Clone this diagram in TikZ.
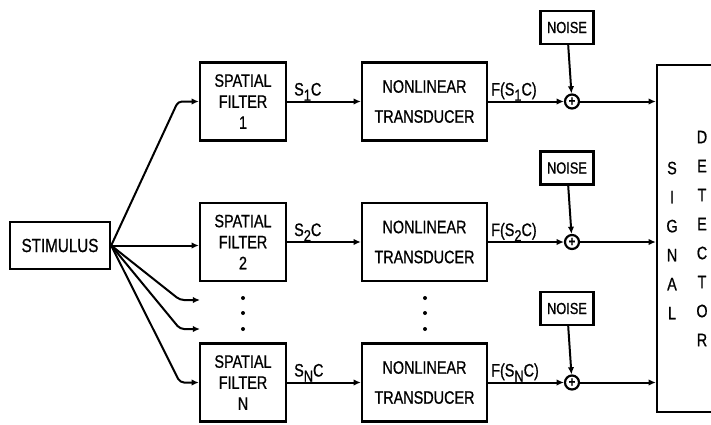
\documentclass[tikz,border=0pt]{standalone}
\usepackage{fontspec}
\setmainfont{Liberation Sans}[FakeStretch=0.8,FakeBold=0.8]
\usetikzlibrary{arrows.meta}
\newcommand{\lowsub}[1]{\raisebox{-0.55ex}{\footnotesize #1}}
\tikzset{
  conn/.style={-{Latex[length=3.6pt,width=3.2pt]},line width=1pt},
  blk/.style={draw,line width=1.2pt,inner sep=0pt,align=center},
  stimbox/.style={blk,minimum width=50pt,minimum height=23.5pt,font=\fontsize{9.5}{11}\selectfont},
  filt/.style={blk,minimum width=43pt,minimum height=39pt,font=\fontsize{9}{10.5}\selectfont},
  trans/.style={blk,minimum width=62.5pt,minimum height=39pt,font=\fontsize{9}{15}\selectfont},
  noisebox/.style={blk,minimum width=26.5pt,minimum height=16.5pt,font=\fontsize{8}{9}\selectfont},
  sumc/.style={circle,draw,line width=1.1pt,inner sep=0pt,minimum size=7pt,font=\fontsize{7}{7}\selectfont\bfseries},
  detbox/.style={draw,line width=1.2pt,minimum width=31pt,minimum height=173.5pt},
  lbl/.style={inner sep=0pt,font=\fontsize{9}{10}\selectfont},
  vlet/.style={inner sep=0pt,align=center,font=\fontsize{9}{14.5}\selectfont},
}

\begin{document}
\begin{tikzpicture}[x=0.5pt,y=-0.5pt]
  \useasboundingbox (0,0) rectangle (711,424);
  \clip (0,0) rectangle (711,424);
  % input
  \node[stimbox] (stim) at (60,245.5) {STIMULUS};
  % detector, right side runs off the page
  \node[detbox] (det) at (688,238.5) {};
  \node[vlet] at (672,240.5) {S\\I\\G\\N\\A\\L};
  \node[vlet] at (702,238.5) {D\\E\\T\\E\\C\\T\\O\\R};
  % channels
  \foreach \i/\y in {1/101.5,2/242,N/382.5}{
    \node[filt] (filt\i) at (243,\y) {SPATIAL\\FILTER\\\i};
    \node[trans] (trans\i) at (424.5,\y) {NONLINEAR\\TRANSDUCER};
    \node[sumc] (sum\i) at (572,\y) {+};
    \node[noisebox] (noise\i) at (567,\y-74) {NOISE};
    \draw[conn] (filt\i) -- node[lbl,pos=0,anchor=base west,xshift=3pt,yshift=3pt]{S\lowsub{\i}C} (trans\i);
    \draw[conn] (trans\i) -- node[lbl,pos=0,anchor=base west,xshift=1pt,yshift=3pt]{F(S\lowsub{\i}C)} (sum\i);
    \draw[conn] (noise\i) -- (sum\i);
    \draw[conn] (sum\i) -- (sum\i -| det.west);
  }
  % fan out from the stimulus
  \coordinate (k1) at (178,101.5);
  \coordinate (k2) at (180,300);
  \coordinate (k3) at (180,329);
  \coordinate (kN) at (180,382.5);
  \coordinate (d2) at (200,300);
  \coordinate (d3) at (200,329);
  \draw[conn,rounded corners=2pt] (stim.east) -- (k1) -- (filt1.west);
  \draw[conn] (stim.east) -- (filt2.west |- stim.east);
  \draw[conn,rounded corners=2pt] (stim.east) -- (k2) -- (d2);
  \draw[conn,rounded corners=2pt] (stim.east) -- (k3) -- (d3);
  \draw[conn,rounded corners=2pt] (stim.east) -- (kN) -- (filtN.west);
  % ellipsis dots
  \foreach \x in {243,425}
    \foreach \y in {298,313,329}
      \fill (\x,\y) circle (1pt);
\end{tikzpicture}
\end{document}
